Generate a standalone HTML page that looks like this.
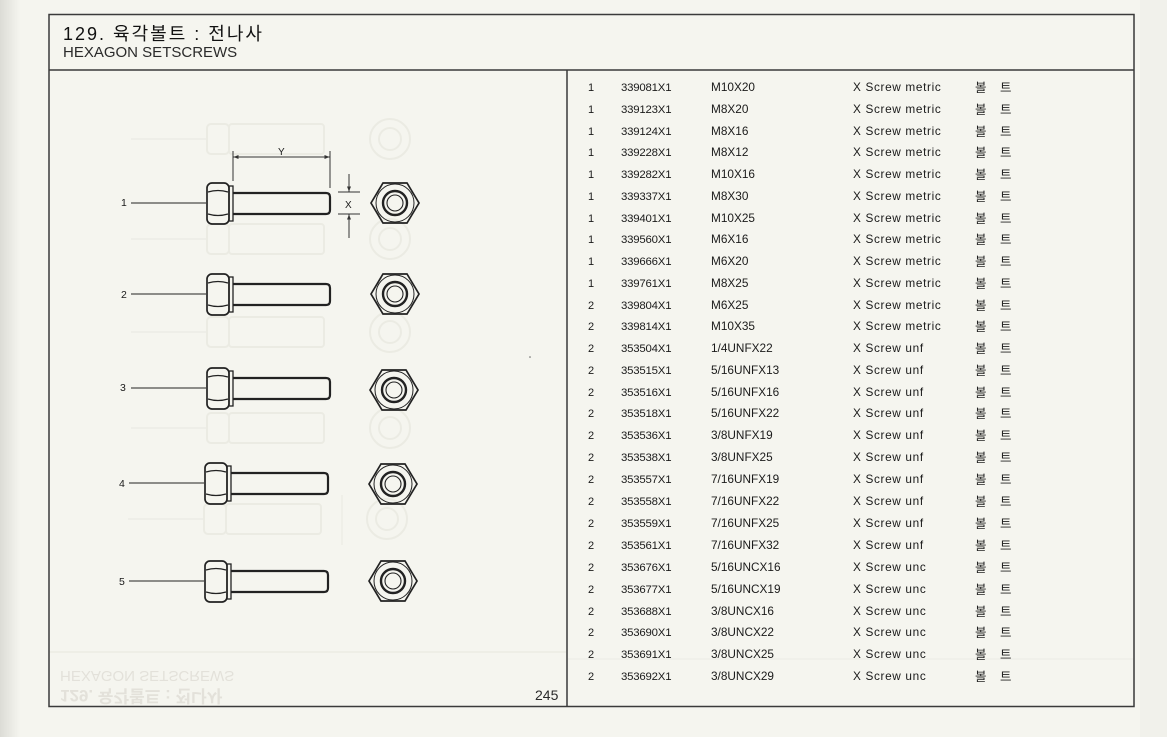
<!DOCTYPE html>
<html><head><meta charset="utf-8"><style>
html,body{margin:0;padding:0;background:#f5f5ef;}
svg{display:block;}
.t{font-family:"Liberation Sans","Noto Sans CJK KR",sans-serif;fill:#1a1a1a;}
.pn{font-size:11.4px;letter-spacing:-0.2px;}
.sz{font-size:11.8px;}
.ds{font-size:11.8px;letter-spacing:0.65px;}
.ko{font-family:"Noto Sans CJK KR","NanumGothic",sans-serif;font-size:12.5px;fill:#222;}
</style></head><body>
<svg width="1167" height="737" viewBox="0 0 1167 737" xmlns="http://www.w3.org/2000/svg">
<defs>
<linearGradient id="lg" x1="0" x2="1" y1="0" y2="0">
<stop offset="0" stop-color="#dcdcd6"/><stop offset="1" stop-color="#f5f5ef"/>
</linearGradient>
<marker id="ar" viewBox="0 0 10 10" refX="10" refY="5" markerWidth="5" markerHeight="5" orient="auto"><path d="M0,1 L10,5 L0,9 z" fill="#333"/></marker>
<g id="bolt" fill="none" stroke="#222">
<rect x="207" y="-20" width="22" height="41" rx="5" stroke-width="1.7"/>
<path d="M208,-11 Q218,-14 228,-11 M208,11 Q218,14 228,11" stroke-width="1.2"/>
<rect x="229" y="-17" width="4" height="35" stroke-width="1.3"/>
<path d="M233,-10 H326 Q330,-10 330,-6 V7 Q330,11 326,11 H233" stroke-width="2.2"/>
<line x1="131" y1="0" x2="206" y2="0" stroke-width="1"/>
</g>
<g id="nut" fill="none" stroke="#222">
<polygon points="-24,0 -12,-20 12,-20 24,0 12,20 -12,20" stroke-width="1.7"/>
<circle r="19" stroke-width="1"/>
<circle r="12" stroke-width="2.4"/>
<circle r="8" stroke-width="1.1"/>
</g>
<g id="gbolt" fill="none" stroke="#ebebe3" stroke-width="2">
<rect x="207" y="-15" width="22" height="30" rx="4"/>
<rect x="229" y="-15" width="95" height="30" rx="3"/>
<line x1="131" y1="0" x2="206" y2="0" stroke-width="1.2"/>
<circle cx="390" cy="0" r="20"/>
<circle cx="390" cy="0" r="11"/>
</g>
</defs>

<rect x="0" y="0" width="1167" height="737" fill="#f5f5ef"/>
<rect x="0" y="0" width="20" height="737" fill="url(#lg)"/>
<rect x="1140" y="0" width="27" height="737" fill="#f1f1eb"/>

<!-- ghost bolts (show-through) -->
<use href="#gbolt" transform="translate(0,139)"/>
<use href="#gbolt" transform="translate(0,239)"/>
<use href="#gbolt" transform="translate(0,332)"/>
<use href="#gbolt" transform="translate(0,428)"/>
<use href="#gbolt" transform="translate(-3,519)"/>
<line x1="342" y1="495" x2="342" y2="545" stroke="#ebebe3" stroke-width="1.2"/>
<line x1="49" y1="652" x2="566" y2="652" stroke="#ebebe4" stroke-width="1.5"/>
<line x1="568" y1="659" x2="1134" y2="659" stroke="#eeeee7" stroke-width="1.2"/>
<g transform="translate(0,1342) scale(1,-1)" class="t" style="fill:#e3e1da">
<text x="60" y="671" font-size="15">HEXAGON  SETSCREWS</text>
<text x="60" y="652" font-size="17" font-weight="bold">129. 육각볼트 : 전나사</text>
</g>

<!-- frame -->
<rect x="49" y="14.5" width="1085" height="692" fill="none" stroke="#3a3a3a" stroke-width="1.5"/>
<line x1="49" y1="70" x2="1134" y2="70" stroke="#3a3a3a" stroke-width="1.5"/>
<line x1="567" y1="70" x2="567" y2="707" stroke="#3a3a3a" stroke-width="1.5"/>

<!-- header -->
<text class="t" x="63" y="40" font-size="18" letter-spacing="2" style="fill:#111">129. 육각볼트 : 전나사</text>
<text class="t" x="63" y="57" font-size="15" style="fill:#2a2a2a">HEXAGON  SETSCREWS</text>
<text class="t" x="535" y="700" font-size="14" style="fill:#2a2a2a">245</text>

<!-- bolts -->
<use href="#bolt" transform="translate(0,203)"/>
<use href="#bolt" transform="translate(0,294)"/>
<use href="#bolt" transform="translate(0,388)"/>
<use href="#bolt" transform="translate(-2,483)"/>
<use href="#bolt" transform="translate(-2,581)"/>
<use href="#nut" transform="translate(395,203)"/>
<use href="#nut" transform="translate(395,294)"/>
<use href="#nut" transform="translate(394,390)"/>
<use href="#nut" transform="translate(393,484)"/>
<use href="#nut" transform="translate(393,581)"/>
<g class="t" font-size="10.5">
<text x="121" y="206">1</text>
<text x="121" y="298">2</text>
<text x="120" y="391">3</text>
<text x="119" y="487">4</text>
<text x="119" y="585">5</text>
</g>

<!-- dimensions -->
<g stroke="#333" fill="none" stroke-width="1">
<line x1="233" y1="151" x2="233" y2="181"/>
<line x1="330" y1="151" x2="330" y2="188"/>
<line x1="236" y1="157" x2="233.5" y2="157" marker-end="url(#ar)"/>
<line x1="236" y1="157" x2="327" y2="157"/>
<line x1="326" y1="157" x2="329.5" y2="157" marker-end="url(#ar)"/>
<line x1="338" y1="192" x2="360" y2="192"/>
<line x1="338" y1="214" x2="360" y2="214"/>
<line x1="349" y1="174" x2="349" y2="191.5" marker-end="url(#ar)"/>
<line x1="349" y1="238" x2="349" y2="214.5" marker-end="url(#ar)"/>
</g>
<text class="t" x="278" y="155" font-size="10">Y</text>
<text class="t" x="345" y="208" font-size="10">X</text>
<circle cx="530" cy="357" r="0.8" fill="#666"/>

<!-- table -->
<g class="t" id="tbl">
<text x="588" y="91" font-size="11">1</text><text class="pn" x="621" y="91">339081X1</text><text class="sz" x="711" y="91">M10X20</text><text class="ds" x="853" y="91">X Screw metric</text><text class="ko" x="975" y="92">볼</text><text class="ko" x="1000" y="92">트</text>
<text x="588" y="113" font-size="11">1</text><text class="pn" x="621" y="113">339123X1</text><text class="sz" x="711" y="113">M8X20</text><text class="ds" x="853" y="113">X Screw metric</text><text class="ko" x="975" y="114">볼</text><text class="ko" x="1000" y="114">트</text>
<text x="588" y="135" font-size="11">1</text><text class="pn" x="621" y="135">339124X1</text><text class="sz" x="711" y="135">M8X16</text><text class="ds" x="853" y="135">X Screw metric</text><text class="ko" x="975" y="136">볼</text><text class="ko" x="1000" y="136">트</text>
<text x="588" y="156" font-size="11">1</text><text class="pn" x="621" y="156">339228X1</text><text class="sz" x="711" y="156">M8X12</text><text class="ds" x="853" y="156">X Screw metric</text><text class="ko" x="975" y="157">볼</text><text class="ko" x="1000" y="157">트</text>
<text x="588" y="178" font-size="11">1</text><text class="pn" x="621" y="178">339282X1</text><text class="sz" x="711" y="178">M10X16</text><text class="ds" x="853" y="178">X Screw metric</text><text class="ko" x="975" y="179">볼</text><text class="ko" x="1000" y="179">트</text>
<text x="588" y="200" font-size="11">1</text><text class="pn" x="621" y="200">339337X1</text><text class="sz" x="711" y="200">M8X30</text><text class="ds" x="853" y="200">X Screw metric</text><text class="ko" x="975" y="201">볼</text><text class="ko" x="1000" y="201">트</text>
<text x="588" y="222" font-size="11">1</text><text class="pn" x="621" y="222">339401X1</text><text class="sz" x="711" y="222">M10X25</text><text class="ds" x="853" y="222">X Screw metric</text><text class="ko" x="975" y="223">볼</text><text class="ko" x="1000" y="223">트</text>
<text x="588" y="243" font-size="11">1</text><text class="pn" x="621" y="243">339560X1</text><text class="sz" x="711" y="243">M6X16</text><text class="ds" x="853" y="243">X Screw metric</text><text class="ko" x="975" y="244">볼</text><text class="ko" x="1000" y="244">트</text>
<text x="588" y="265" font-size="11">1</text><text class="pn" x="621" y="265">339666X1</text><text class="sz" x="711" y="265">M6X20</text><text class="ds" x="853" y="265">X Screw metric</text><text class="ko" x="975" y="266">볼</text><text class="ko" x="1000" y="266">트</text>
<text x="588" y="287" font-size="11">1</text><text class="pn" x="621" y="287">339761X1</text><text class="sz" x="711" y="287">M8X25</text><text class="ds" x="853" y="287">X Screw metric</text><text class="ko" x="975" y="288">볼</text><text class="ko" x="1000" y="288">트</text>
<text x="588" y="309" font-size="11">2</text><text class="pn" x="621" y="309">339804X1</text><text class="sz" x="711" y="309">M6X25</text><text class="ds" x="853" y="309">X Screw metric</text><text class="ko" x="975" y="310">볼</text><text class="ko" x="1000" y="310">트</text>
<text x="588" y="330" font-size="11">2</text><text class="pn" x="621" y="330">339814X1</text><text class="sz" x="711" y="330">M10X35</text><text class="ds" x="853" y="330">X Screw metric</text><text class="ko" x="975" y="331">볼</text><text class="ko" x="1000" y="331">트</text>
<text x="588" y="352" font-size="11">2</text><text class="pn" x="621" y="352">353504X1</text><text class="sz" x="711" y="352">1/4UNFX22</text><text class="ds" x="853" y="352">X Screw unf</text><text class="ko" x="975" y="353">볼</text><text class="ko" x="1000" y="353">트</text>
<text x="588" y="374" font-size="11">2</text><text class="pn" x="621" y="374">353515X1</text><text class="sz" x="711" y="374">5/16UNFX13</text><text class="ds" x="853" y="374">X Screw unf</text><text class="ko" x="975" y="375">볼</text><text class="ko" x="1000" y="375">트</text>
<text x="588" y="396" font-size="11">2</text><text class="pn" x="621" y="396">353516X1</text><text class="sz" x="711" y="396">5/16UNFX16</text><text class="ds" x="853" y="396">X Screw unf</text><text class="ko" x="975" y="397">볼</text><text class="ko" x="1000" y="397">트</text>
<text x="588" y="417" font-size="11">2</text><text class="pn" x="621" y="417">353518X1</text><text class="sz" x="711" y="417">5/16UNFX22</text><text class="ds" x="853" y="417">X Screw unf</text><text class="ko" x="975" y="418">볼</text><text class="ko" x="1000" y="418">트</text>
<text x="588" y="439" font-size="11">2</text><text class="pn" x="621" y="439">353536X1</text><text class="sz" x="711" y="439">3/8UNFX19</text><text class="ds" x="853" y="439">X Screw unf</text><text class="ko" x="975" y="440">볼</text><text class="ko" x="1000" y="440">트</text>
<text x="588" y="461" font-size="11">2</text><text class="pn" x="621" y="461">353538X1</text><text class="sz" x="711" y="461">3/8UNFX25</text><text class="ds" x="853" y="461">X Screw unf</text><text class="ko" x="975" y="462">볼</text><text class="ko" x="1000" y="462">트</text>
<text x="588" y="483" font-size="11">2</text><text class="pn" x="621" y="483">353557X1</text><text class="sz" x="711" y="483">7/16UNFX19</text><text class="ds" x="853" y="483">X Screw unf</text><text class="ko" x="975" y="484">볼</text><text class="ko" x="1000" y="484">트</text>
<text x="588" y="505" font-size="11">2</text><text class="pn" x="621" y="505">353558X1</text><text class="sz" x="711" y="505">7/16UNFX22</text><text class="ds" x="853" y="505">X Screw unf</text><text class="ko" x="975" y="506">볼</text><text class="ko" x="1000" y="506">트</text>
<text x="588" y="527" font-size="11">2</text><text class="pn" x="621" y="527">353559X1</text><text class="sz" x="711" y="527">7/16UNFX25</text><text class="ds" x="853" y="527">X Screw unf</text><text class="ko" x="975" y="528">볼</text><text class="ko" x="1000" y="528">트</text>
<text x="588" y="549" font-size="11">2</text><text class="pn" x="621" y="549">353561X1</text><text class="sz" x="711" y="549">7/16UNFX32</text><text class="ds" x="853" y="549">X Screw unf</text><text class="ko" x="975" y="550">볼</text><text class="ko" x="1000" y="550">트</text>
<text x="588" y="571" font-size="11">2</text><text class="pn" x="621" y="571">353676X1</text><text class="sz" x="711" y="571">5/16UNCX16</text><text class="ds" x="853" y="571">X Screw unc</text><text class="ko" x="975" y="572">볼</text><text class="ko" x="1000" y="572">트</text>
<text x="588" y="593" font-size="11">2</text><text class="pn" x="621" y="593">353677X1</text><text class="sz" x="711" y="593">5/16UNCX19</text><text class="ds" x="853" y="593">X Screw unc</text><text class="ko" x="975" y="594">볼</text><text class="ko" x="1000" y="594">트</text>
<text x="588" y="615" font-size="11">2</text><text class="pn" x="621" y="615">353688X1</text><text class="sz" x="711" y="615">3/8UNCX16</text><text class="ds" x="853" y="615">X Screw unc</text><text class="ko" x="975" y="616">볼</text><text class="ko" x="1000" y="616">트</text>
<text x="588" y="636" font-size="11">2</text><text class="pn" x="621" y="636">353690X1</text><text class="sz" x="711" y="636">3/8UNCX22</text><text class="ds" x="853" y="636">X Screw unc</text><text class="ko" x="975" y="637">볼</text><text class="ko" x="1000" y="637">트</text>
<text x="588" y="658" font-size="11">2</text><text class="pn" x="621" y="658">353691X1</text><text class="sz" x="711" y="658">3/8UNCX25</text><text class="ds" x="853" y="658">X Screw unc</text><text class="ko" x="975" y="659">볼</text><text class="ko" x="1000" y="659">트</text>
<text x="588" y="680" font-size="11">2</text><text class="pn" x="621" y="680">353692X1</text><text class="sz" x="711" y="680">3/8UNCX29</text><text class="ds" x="853" y="680">X Screw unc</text><text class="ko" x="975" y="681">볼</text><text class="ko" x="1000" y="681">트</text>
</g>
</svg>
</body></html>
